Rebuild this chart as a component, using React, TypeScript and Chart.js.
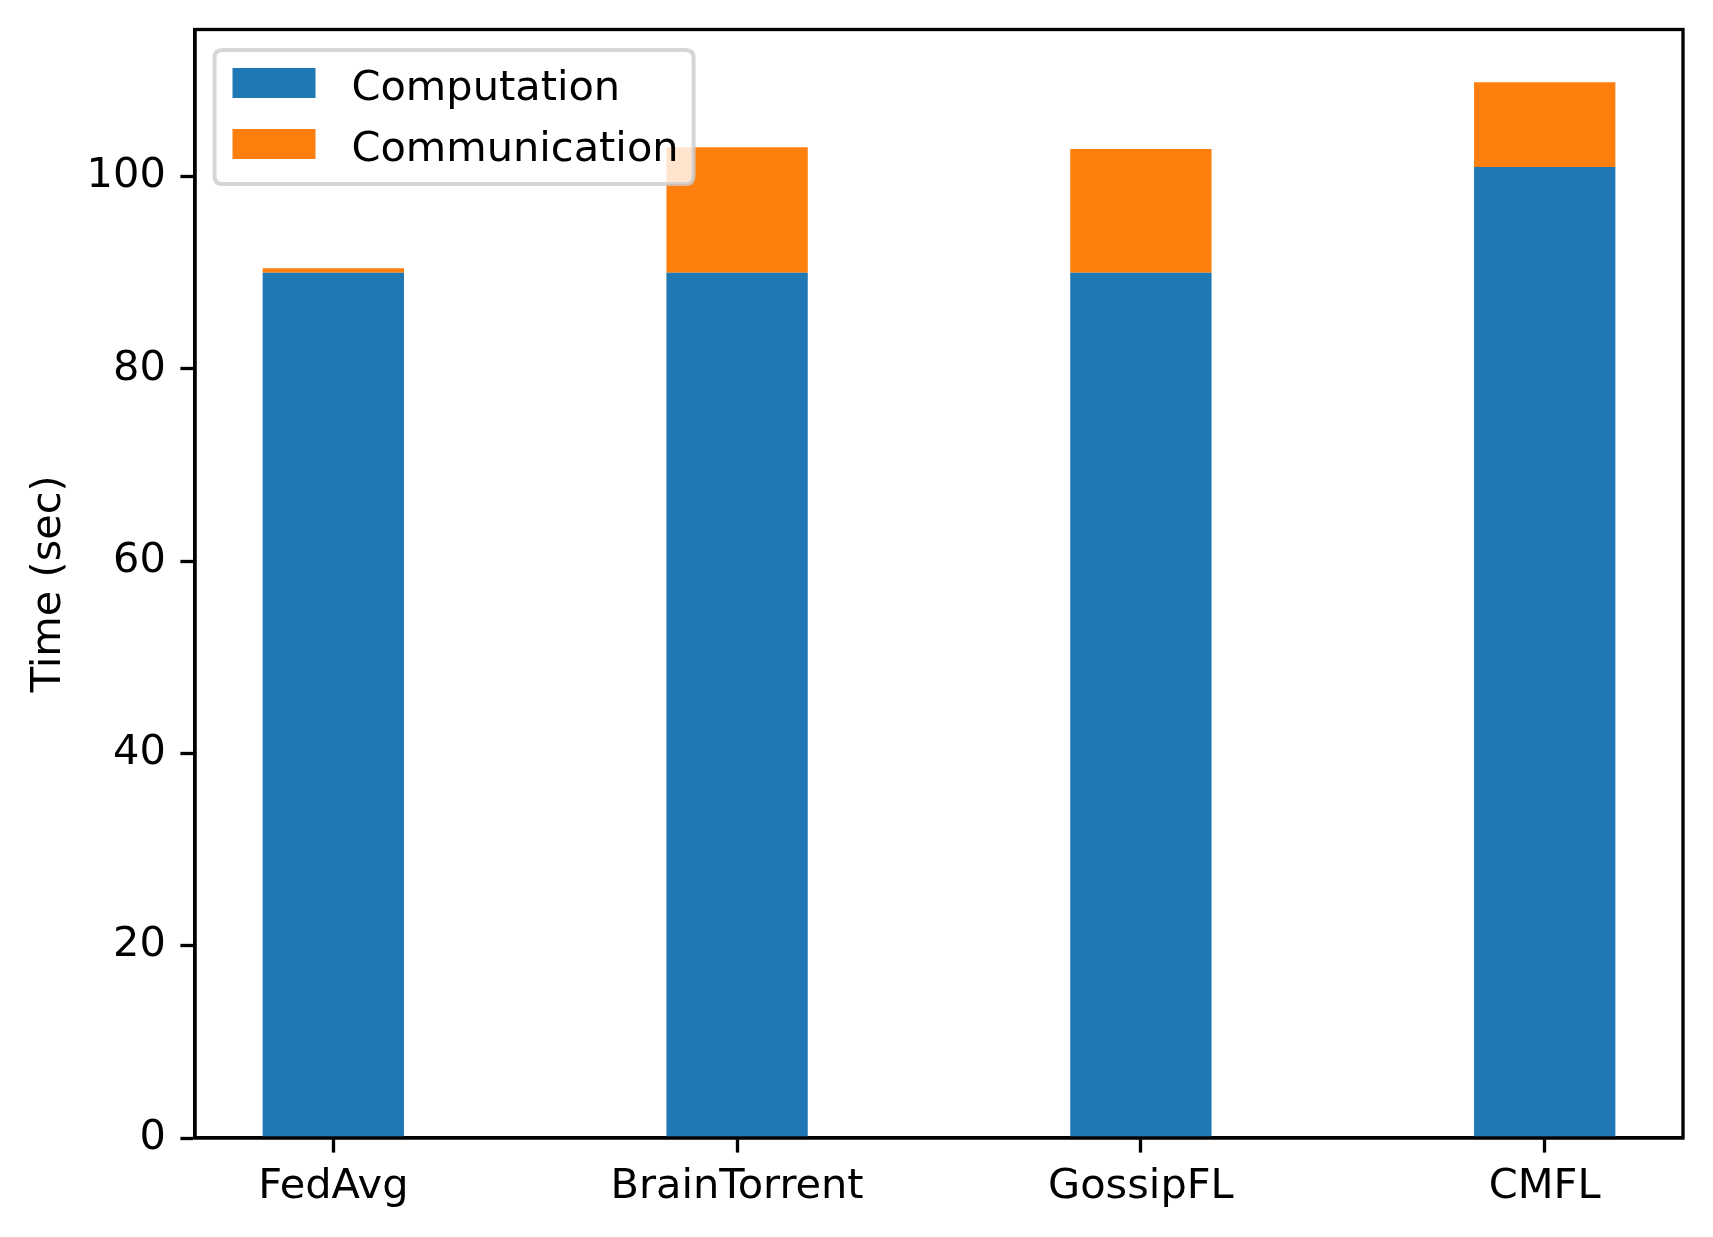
import React, { useEffect, useRef } from "react";
import { Chart, registerables } from "chart.js";

Chart.register(...registerables);

const categories = ["FedAvg", "BrainTorrent", "GossipFL", "CMFL"];
const computation = [90, 90, 90, 101];
const communication = [0.45, 13.05, 12.85, 8.8];
const yTicks = [0, 20, 40, 60, 80, 100];
const seriesLabels = ["Computation", "Communication"];
const seriesColors = ["#1f77b4", "#ff7f0e"];

const FS = 41.5;
const FONT = "DejaVu Sans";
const LW = 3.33;

const framePlugin = {
  id: "frame",
  afterDatasetsDraw(chart: any) {
    const { ctx, chartArea: a } = chart;
    ctx.save();
    ctx.strokeStyle = "#000";
    ctx.lineWidth = LW;
    ctx.strokeRect(a.left, a.top, a.right - a.left, a.bottom - a.top);
    ctx.restore();
  },
};

const legendPlugin = {
  id: "mplLegend",
  afterDraw(chart: any) {
    const { ctx, chartArea: a } = chart;
    const x0 = a.left + 19.5;
    const y0 = a.top + 20.5;
    ctx.save();
    ctx.font = `${FS}px "${FONT}"`;
    const labels = chart.data.datasets.map((d: any) => d.label);
    const maxW = Math.max(...labels.map((l: string) => ctx.measureText(l).width));
    const textOff = 137;
    const w = textOff + maxW + 15;
    const h = 134;
    const r = 8;
    ctx.beginPath();
    ctx.moveTo(x0 + r, y0);
    ctx.lineTo(x0 + w - r, y0);
    ctx.quadraticCurveTo(x0 + w, y0, x0 + w, y0 + r);
    ctx.lineTo(x0 + w, y0 + h - r);
    ctx.quadraticCurveTo(x0 + w, y0 + h, x0 + w - r, y0 + h);
    ctx.lineTo(x0 + r, y0 + h);
    ctx.quadraticCurveTo(x0, y0 + h, x0, y0 + h - r);
    ctx.lineTo(x0, y0 + r);
    ctx.quadraticCurveTo(x0, y0, x0 + r, y0);
    ctx.closePath();
    ctx.fillStyle = "rgba(255,255,255,0.8)";
    ctx.fill();
    ctx.strokeStyle = "rgba(204,204,204,0.8)";
    ctx.lineWidth = 4;
    ctx.stroke();
    chart.data.datasets.forEach((d: any, i: number) => {
      const hy = y0 + 18 + i * 61;
      ctx.fillStyle = d.backgroundColor;
      ctx.fillRect(x0 + 18, hy, 83, 30);
      ctx.fillStyle = "#000";
      ctx.textBaseline = "alphabetic";
      ctx.textAlign = "left";
      ctx.fillText(d.label, x0 + textOff, hy + 15 + 17);
    });
    ctx.restore();
  },
};

export default function App() {
  const ref = useRef<HTMLCanvasElement | null>(null);
  useEffect(() => {
    if (!ref.current) return;
    const series = [computation, communication];
    const totals = computation.map((v, i) => v + communication[i]);
    const yMax = Math.max(...totals) * 1.05;
    const barW = 0.35;
    const xMin = -barW / 2 - 0.05 * (categories.length - 1 + barW);
    const xMax = categories.length - 1 + barW / 2 + 0.05 * (categories.length - 1 + barW);
    const chart = new Chart(ref.current, {
      type: "bar",
      data: {
        datasets: series.map((s, k) => ({
          label: seriesLabels[k],
          data: s.map((v, i) => ({ x: i, y: v })),
          backgroundColor: seriesColors[k],
          borderWidth: 0,
          categoryPercentage: 1,
          barPercentage: barW,
        })),
      },
      options: {
        animation: false,
        responsive: true,
        maintainAspectRatio: false,
        devicePixelRatio: 1,
        layout: { padding: { left: 0, top: 29.5, right: 30, bottom: 0 } },
        plugins: { legend: { display: false }, tooltip: { enabled: false } },
        scales: {
          x: {
            type: "linear",
            stacked: true,
            offset: false,
            min: xMin,
            max: xMax,
            afterBuildTicks: (s: any) => {
              s.ticks = categories.map((_, i) => ({ value: i }));
            },
            afterFit: (s: any) => {
              s.height = 99;
              s.paddingLeft = 0;
              s.paddingRight = 0;
            },
            ticks: {
              autoSkip: false,
              maxRotation: 0,
              padding: 10,
              color: "#000",
              font: { family: FONT, size: FS },
              callback: (v: any) => categories[v as number] ?? "",
            },
            grid: {
              display: true,
              offset: false,
              drawOnChartArea: false,
              drawTicks: true,
              tickLength: 14.6,
              tickWidth: LW,
              tickColor: "#000",
            },
            border: { display: true, color: "#000", width: LW },
          },
          y: {
            type: "linear",
            stacked: true,
            min: 0,
            max: yMax,
            afterBuildTicks: (s: any) => {
              s.ticks = yTicks.map((v) => ({ value: v }));
            },
            afterFit: (s: any) => {
              s.width = 195;
              s.paddingTop = 0;
              s.paddingBottom = 0;
            },
            ticks: {
              padding: 14.6,
              color: "#000",
              font: { family: FONT, size: FS },
            },
            grid: {
              display: true,
              drawOnChartArea: false,
              drawTicks: true,
              tickLength: 14.6,
              tickWidth: LW,
              tickColor: "#000",
            },
            border: { display: true, color: "#000", width: LW },
            title: {
              display: true,
              text: "Time (sec)",
              color: "#000",
              font: { family: FONT, size: FS },
              padding: { top: 24, bottom: 0 },
            },
          },
        },
      },
      plugins: [framePlugin, legendPlugin],
    } as any);
    return () => chart.destroy();
  }, []);
  return (
    <div style={{ position: "fixed", left: 0, top: 0, width: 1713, height: 1237, background: "#fff" }}>
      <canvas ref={ref} />
    </div>
  );
}
